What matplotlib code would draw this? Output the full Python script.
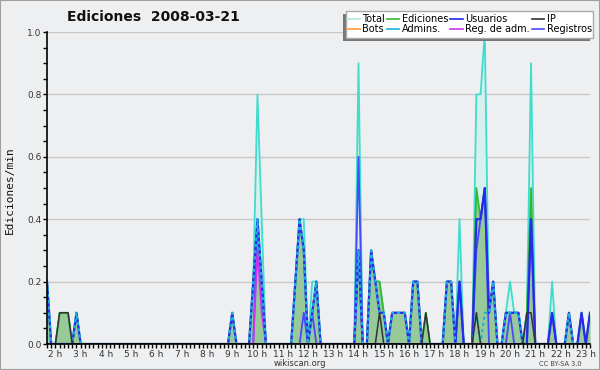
import numpy as np
import matplotlib
matplotlib.use("Agg")
import matplotlib.pyplot as plt
from matplotlib.lines import Line2D
from matplotlib.patches import Rectangle
from matplotlib.ticker import MultipleLocator

# 10-minute bins from 01:40 to 23:10, values in edits/min (only non-zero bins listed)
start_time = "01:40"
end_time = "23:10"

total = {"01:40": 0.2, "02:10": 0.1, "02:20": 0.1, "02:30": 0.1, "02:50": 0.1,
         "09:00": 0.1, "09:50": 0.2, "10:00": 0.8, "10:10": 0.4,
         "11:30": 0.2, "11:40": 0.4, "11:50": 0.4, "12:10": 0.2, "12:20": 0.2,
         "14:00": 0.9, "14:30": 0.3, "14:40": 0.2, "14:50": 0.2, "15:00": 0.1,
         "15:20": 0.1, "15:30": 0.1, "15:40": 0.1, "15:50": 0.1,
         "16:10": 0.2, "16:20": 0.2, "16:40": 0.1, "17:30": 0.2, "17:40": 0.2,
         "18:00": 0.4, "18:40": 0.8, "18:50": 0.8, "19:00": 1.0, "19:10": 0.1,
         "19:20": 0.2, "19:50": 0.1, "20:00": 0.2, "20:10": 0.1, "20:20": 0.1,
         "20:40": 0.1, "20:50": 0.9, "21:40": 0.2, "22:20": 0.1, "22:50": 0.1,
         "23:10": 0.1}
ediciones = {"01:40": 0.2, "02:10": 0.1, "02:20": 0.1, "02:30": 0.1, "02:50": 0.1,
             "09:00": 0.1, "09:50": 0.2, "10:00": 0.4, "10:10": 0.2,
             "11:30": 0.2, "11:40": 0.4, "11:50": 0.3, "12:10": 0.1, "12:20": 0.2,
             "14:00": 0.3, "14:30": 0.3, "14:40": 0.2, "14:50": 0.2, "15:00": 0.1,
             "15:20": 0.1, "15:30": 0.1, "15:40": 0.1, "15:50": 0.1,
             "16:10": 0.2, "16:20": 0.2, "16:40": 0.1, "17:30": 0.2, "17:40": 0.2,
             "18:00": 0.2, "18:40": 0.5, "18:50": 0.4, "19:00": 0.5, "19:10": 0.1,
             "19:20": 0.2, "19:50": 0.1, "20:00": 0.1, "20:10": 0.1, "20:20": 0.1,
             "20:40": 0.1, "20:50": 0.5, "21:40": 0.1, "22:20": 0.1, "22:50": 0.1,
             "23:10": 0.1}
usuarios = {"01:40": 0.2, "02:50": 0.1, "09:00": 0.1, "09:50": 0.2, "10:00": 0.4,
            "10:10": 0.2, "11:30": 0.2, "11:40": 0.4, "11:50": 0.3, "12:10": 0.1,
            "12:20": 0.2, "14:00": 0.3, "14:30": 0.3, "14:40": 0.2, "14:50": 0.1,
            "15:00": 0.1, "15:20": 0.1, "15:30": 0.1, "15:40": 0.1, "15:50": 0.1,
            "16:10": 0.2, "16:20": 0.2, "17:30": 0.2, "17:40": 0.2, "18:00": 0.2,
            "18:40": 0.4, "18:50": 0.4, "19:00": 0.5, "19:10": 0.1, "19:20": 0.2,
            "19:50": 0.1, "20:00": 0.1, "20:10": 0.1, "20:20": 0.1, "20:50": 0.4,
            "21:40": 0.1, "22:20": 0.1, "22:50": 0.1, "23:10": 0.1}
ip = {"02:10": 0.1, "02:20": 0.1, "02:30": 0.1, "14:50": 0.1, "16:40": 0.1,
      "18:40": 0.1, "20:40": 0.1, "20:50": 0.1}
bots = {}
admins = {"01:40": 0.2, "02:50": 0.1, "09:00": 0.1, "09:50": 0.2, "10:00": 0.4,
          "10:10": 0.2, "11:30": 0.2, "11:40": 0.4, "11:50": 0.3, "12:10": 0.1,
          "12:20": 0.2, "14:00": 0.3, "14:30": 0.3, "14:40": 0.2, "14:50": 0.1,
          "15:00": 0.1, "15:20": 0.1, "15:30": 0.1, "15:40": 0.1, "15:50": 0.1,
          "16:10": 0.2, "16:20": 0.2, "17:30": 0.2, "17:40": 0.2,
          "18:40": 0.1, "19:00": 0.1, "19:10": 0.1, "19:20": 0.2,
          "19:50": 0.1, "20:00": 0.1, "20:10": 0.1, "20:20": 0.1, "22:20": 0.1}
reg_adm = {"10:00": 0.3, "10:10": 0.1, "14:00": 0.3}
registros = {"10:00": 0.4, "10:10": 0.2, "11:50": 0.1, "12:10": 0.1, "14:00": 0.6,
             "18:00": 0.2, "18:40": 0.3, "18:50": 0.4, "19:00": 0.5, "20:00": 0.1,
             "20:50": 0.4, "21:40": 0.1}

hour_ticks = list(range(2, 24))
hour_labels = [f"{h} h" for h in hour_ticks]


def to_min(s):
    h, m = s.split(":")
    return int(h) * 60 + int(m)


t0, t1 = to_min(start_time), to_min(end_time)
n = (t1 - t0) // 10 + 1
x = (t0 + 10 * np.arange(n)) / 60.0


def expand(pts):
    arr = np.zeros(n)
    for k, v in pts.items():
        arr[(to_min(k) - t0) // 10] = v
    return arr


W, H = 600, 370
bg = "#eeeff1"
fig = plt.figure(figsize=(6, 3.7), dpi=100, facecolor=bg)
ax = fig.add_axes([47 / W, 26 / H, 543 / W, 312 / H])
ax.set_facecolor(bg)

c_total = "#40dccc"
c_ed = "#33b833"
c_us = "#2828f0"
c_ip = "#333333"
c_bots = "#ff9933"
c_adm = "#1ab4d8"
c_regadm = "#cc33ee"
c_reg = "#4848ff"

tot = expand(total)
ed = expand(ediciones)
ax.fill_between(x, 0, tot, color="#d8efeb", lw=0, zorder=1)
ax.plot(x, tot, color=c_total, lw=1.3, zorder=2)
ax.fill_between(x, 0, ed, color="#97ca98", lw=0, zorder=3)
ax.plot(x, ed, color=c_ed, lw=1.3, zorder=4)
ax.plot(x, expand(bots), color=c_bots, lw=1.2, zorder=4.5)
ax.plot(x, expand(registros), color=c_reg, lw=1.3, zorder=5)
ax.plot(x, expand(reg_adm), color=c_regadm, lw=1.3, zorder=6)
ax.plot(x, expand(usuarios), color=c_us, lw=1.6, zorder=7)
ax.plot(x, expand(admins), color=c_adm, lw=1.6, ls=(0, (1.4, 1.4)), zorder=8)
ax.plot(x, expand(ip), color=c_ip, lw=1.1, zorder=9)

ax.set_xlim(x[0], x[-1])
ax.set_ylim(0, 1.0)
ax.set_yticks([0, 0.2, 0.4, 0.6, 0.8, 1.0])
ax.set_yticklabels(["0.0", "0.2", "0.4", "0.6", "0.8", "1.0"])
ax.yaxis.set_minor_locator(MultipleLocator(0.05))
ax.set_xticks(hour_ticks)
ax.set_xticklabels(hour_labels)
ax.xaxis.set_minor_locator(MultipleLocator(1 / 6))
ax.tick_params(which="both", direction="out", length=3, width=1, color="black",
               labelsize=6.5, labelcolor="#333333", pad=1)
ax.grid(axis="y", color="#c8c8c8", lw=1)
ax.set_axisbelow(True)
for s in ["top", "right"]:
    ax.spines[s].set_visible(False)
for s in ["left", "bottom"]:
    ax.spines[s].set_linewidth(1.2)
    ax.spines[s].set_zorder(10)

fig.text(153 / W, 1 - 17 / H, "Ediciones  2008-03-21", ha="center", va="center",
         fontsize=10, fontweight="bold", color="#111111")
fig.text(10 / W, 1 - 190 / H, "Ediciones/min", rotation=90, ha="center",
         va="center", fontsize=8, family="DejaVu Sans Mono", color="#111111")
fig.text(300 / W, 1 - 363 / H, "wikiscan.org", ha="center", va="center",
         fontsize=6, color="#333333")
fig.text(560 / W, 1 - 364 / H, "CC BY-SA 3.0", ha="center", va="center",
         fontsize=4.8, color="#444444")

# legend box with shadow offset to the lower left (pixel positions of the box)
bx0, bx1, by0, by1 = 346, 593, 11, 38
fig.patches.append(Rectangle(((bx0 - 3) / W, 1 - (by1 + 3) / H), (bx1 - bx0) / W,
                             (by1 - by0) / H, transform=fig.transFigure,
                             facecolor="#777777", lw=0, zorder=15))
fig.patches.append(Rectangle((bx0 / W, 1 - by1 / H), (bx1 - bx0) / W, (by1 - by0) / H,
                             transform=fig.transFigure, facecolor="white",
                             edgecolor="#aaaaaa", lw=1, zorder=16))

handles = [Line2D([], [], color=c, lw=1.2) for c in
           ["#b0e6de", c_ed, c_us, c_ip, c_bots, c_adm, c_regadm, c_reg]]
names = ["Total", "Ediciones", "Usuarios", "IP", "Bots", "Admins.", "Reg. de adm.", "Registros"]
# column-major order so rows read Total/Ediciones/Usuarios/IP then Bots/Admins/...
order = [0, 4, 1, 5, 2, 6, 3, 7]
leg = fig.legend([handles[i] for i in order], [names[i] for i in order], ncol=4,
                 loc="center", bbox_to_anchor=((bx0 + bx1) / 2 / W, 1 - (by0 + by1) / 2 / H),
                 fontsize=7, frameon=False, handlelength=1.3,
                 handletextpad=0.25, columnspacing=0.2, labelspacing=0.0,
                 borderpad=0.0, borderaxespad=0)
leg.set_zorder(20)

fig.patches.append(Rectangle((0, 0), 1, 1, transform=fig.transFigure, fill=False,
                             edgecolor="#a0a0a0", lw=1.5, zorder=30))

fig.savefig("out.png", dpi=100, facecolor=bg)
